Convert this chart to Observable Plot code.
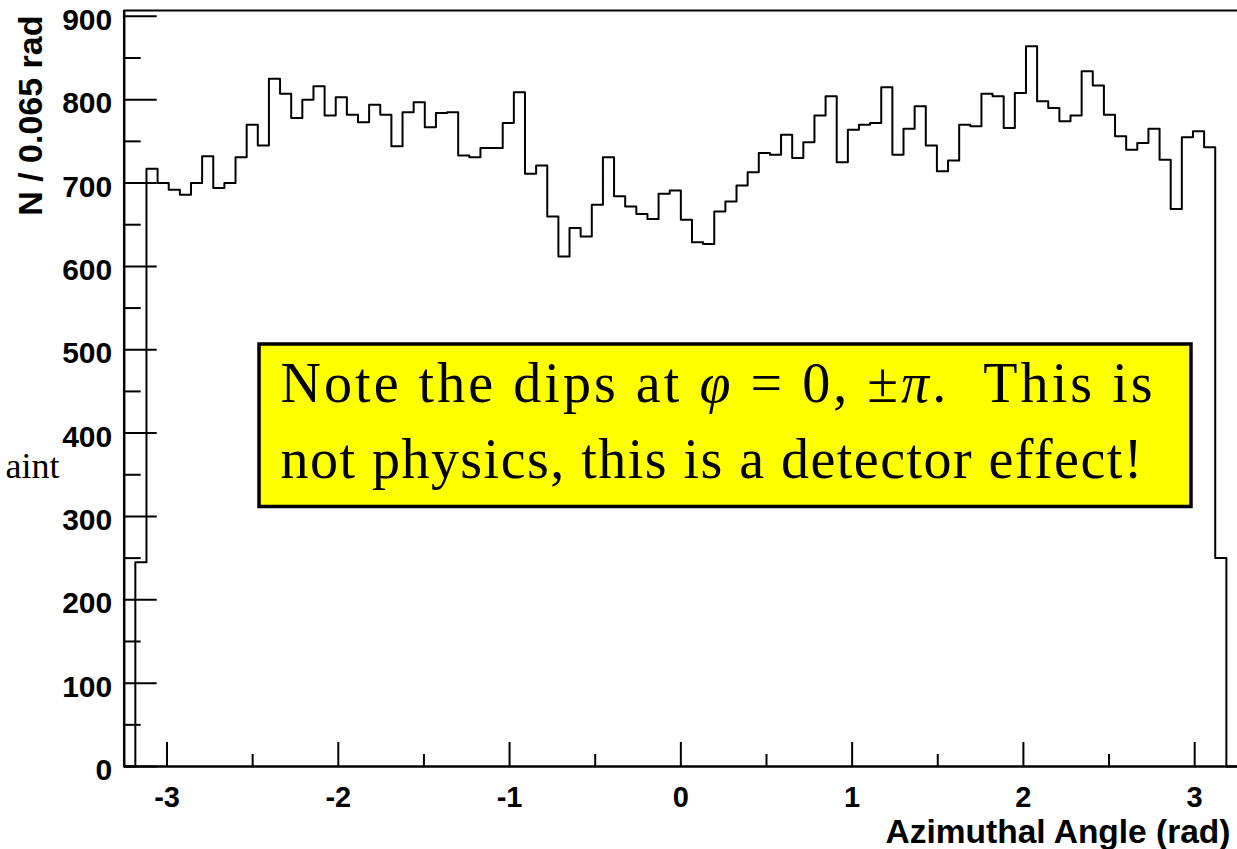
<!DOCTYPE html>
<html>
<head>
<meta charset="utf-8">
<script src="https://cdn.jsdelivr.net/npm/d3@7"></script>
<script src="https://cdn.jsdelivr.net/npm/@observablehq/plot@0.6"></script>
<style>
  html, body { margin: 0; padding: 0; background: #fff; }
  #chart svg { display: block; }
</style>
</head>
<body>
<div id="chart"></div>
<script>
// ---------- data ----------
const binLow = -3.25;
const binWidth = 0.065;
const counts = [
  0, 245, 717, 700, 692, 686, 700, 732, 694, 700,
  731, 770, 745, 825, 807, 778, 800, 816, 781, 803,
  782, 773, 794, 782, 744, 785, 797, 767, 784, 785,
  733, 731, 742, 742, 772, 809, 711, 721, 660, 612,
  646, 636, 674, 731, 684, 672, 663, 657, 687, 691,
  656, 629, 627, 666, 678, 697, 713, 736, 734, 758,
  730, 749, 781, 804, 725, 764, 770, 772, 815, 734,
  765, 792, 745, 714, 727, 770, 768, 807, 804, 766,
  808, 864, 798, 790, 774, 781, 834, 817, 782, 756,
  740, 748, 765, 728, 669, 755, 762, 743, 250, 0
];
const majorX = [-3, -2, -1, 0, 1, 2, 3];
const majorXLabels = ["-3", "-2", "-1", "0", "1", "2", "3"];
const minorX = [-2.5, -1.5, -0.5, 0.5, 1.5, 2.5];
const majorY = [0, 100, 200, 300, 400, 500, 600, 700, 800, 900];
const minorY = [50, 150, 250, 350, 450, 550, 650, 750, 850];
const xTitle = "Azimuthal Angle (rad)";
const yTitle = "N / 0.065 rad";
const noteLines = ["Note the dips at φ = 0, ±π.  This is", "not physics, this is a detector effect!"];
const strayText = ["aint"];

// ---------- layout ----------
const W = 1237, H = 849;
const mL = 123.7, mR = 0, mT = 10, mB = 83;
const xDom = [-3.25, 3.25], yDom = [0, 907];
const pxX = (W - mL - mR) / (xDom[1] - xDom[0]);
const pxY = (H - mT - mB) / (yDom[1] - yDom[0]);
const xAt = px => xDom[0] + (px - mL) / pxX;
const yAt = py => yDom[0] + (H - mB - py) / pxY;

const steps = counts.map((c, i) => ({x: binLow + i * binWidth, y: c}))
  .concat([{x: binLow + counts.length * binWidth, y: counts[counts.length - 1]}]);

const noteBox = [{x1: xAt(259), x2: xAt(1191), y1: yAt(506.5), y2: yAt(344)}];
const noteX = xAt(280);
const noteBaselines = [yAt(401), yAt(477)];
const noteWidths = [872, 862];

const sans = "'Liberation Sans', Arial, Helvetica, sans-serif";
const serif = "'Liberation Serif', 'DejaVu Serif', serif";

const chart = Plot.plot({
  width: W, height: H,
  marginLeft: mL, marginRight: mR, marginTop: mT, marginBottom: mB,
  x: {domain: xDom, axis: null},
  y: {domain: yDom, axis: null},
  style: {background: "white", color: "black"},
  marks: [
    // histogram outline
    Plot.line(steps, {x: "x", y: "y", curve: "step-after", stroke: "black", strokeWidth: 2}),
    // frame (left, bottom, top)
    Plot.ruleY([yDom[0]], {stroke: "black", strokeWidth: 2.5}),
    Plot.ruleY([yDom[1]], {stroke: "black", strokeWidth: 2}),
    Plot.ruleX([xDom[0]], {stroke: "black", strokeWidth: 2.5}),
    // x ticks (inward)
    Plot.ruleX(majorX, {x: d => d, y1: 0, y2: 24 / pxY, stroke: "black", strokeWidth: 2}),
    Plot.ruleX(minorX, {x: d => d, y1: 0, y2: 12 / pxY, stroke: "black", strokeWidth: 2}),
    // y ticks (inward)
    Plot.ruleY(majorY, {y: d => d, x1: xDom[0], x2: xDom[0] + 33 / pxX, stroke: "black", strokeWidth: 2}),
    Plot.ruleY(minorY, {y: d => d, x1: xDom[0], x2: xDom[0] + 17 / pxX, stroke: "black", strokeWidth: 2}),
    // tick labels
    Plot.text(majorY, {x: xDom[0], y: d => d, text: d => String(d), textAnchor: "end", lineAnchor: "middle",
      dx: -12, dy: 4, fontSize: 30, fontWeight: "bold", fontFamily: sans, fill: "black"}),
    Plot.text(majorX, {x: d => d, y: yDom[0], text: (d, i) => majorXLabels[i], textAnchor: "middle", lineAnchor: "middle",
      dy: 31, fontSize: 29, fontWeight: "bold", fontFamily: sans, fill: "black"}),
    // axis titles
    Plot.text([xTitle], {frameAnchor: "bottom-right", text: d => d, textAnchor: "end", lineAnchor: "bottom",
      dx: -7, dy: 76, fontSize: 33.5, fontWeight: "bold", fontFamily: sans, fill: "black"}),
    Plot.text([yTitle], {frameAnchor: "top-left", text: d => d, rotate: -90, textAnchor: "end", lineAnchor: "middle",
      dx: -93, dy: 5, fontSize: 34, fontWeight: "bold", fontFamily: sans, fill: "black"}),
    // note box
    Plot.rect(noteBox, {x1: "x1", x2: "x2", y1: "y1", y2: "y2", fill: "#ffff00", stroke: "black", strokeWidth: 3.5}),
    Plot.text(noteLines, {x: noteX, y: (d, i) => noteBaselines[i], text: d => d, textAnchor: "start", lineAnchor: "bottom",
      fontSize: 56, fontFamily: serif, fill: "black"}),
    // stray slide text at left
    Plot.text(strayText, {x: xAt(59), y: yAt(477), text: d => d, textAnchor: "end", lineAnchor: "bottom",
      fontSize: 36, fontFamily: serif, fill: "black"})
  ]
});

document.getElementById("chart").appendChild(chart);

// italicise the math symbols and spread the note lines to the reference widths
d3.select(chart).selectAll("text").each(function() {
  const t = d3.select(this);
  const s = t.text();
  const i = noteLines.indexOf(s);
  if (i < 0) return;
  t.text("");
  for (const part of s.split(/([φπ])/)) {
    if (!part) continue;
    t.append("tspan").attr("font-style", /[φπ]/.test(part) ? "italic" : null).text(part);
  }
  const w = this.getComputedTextLength();
  const n = Array.from(s).length;
  if (w > 0 && n > 1) t.style("letter-spacing", ((noteWidths[i] - w) / (n - 1)).toFixed(2) + "px");
});
</script>
</body>
</html>
